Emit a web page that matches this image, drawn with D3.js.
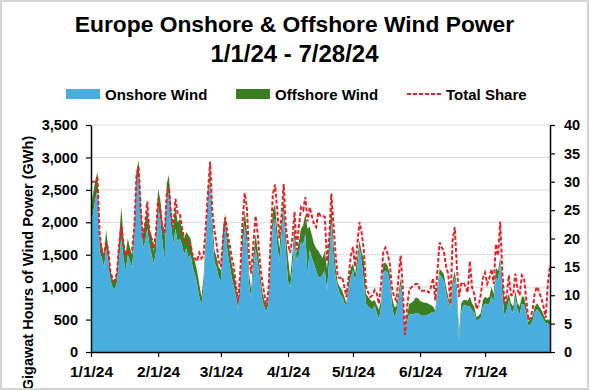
<!DOCTYPE html>
<html>
<head>
<meta charset="utf-8">
<script src="https://cdn.jsdelivr.net/npm/d3@7"></script>
<style>
body { margin: 0; background: #fff; }
svg { display: block; font-family: "Liberation Sans", Arial, sans-serif; }
</style>
</head>
<body>
<div id="chart"></div>
<script>
// daily values from 1/1/24, GWh
var onshore = [
    1950, 2150, 2350, 2500, 1550, 1450, 1300, 1600, 1400, 1100,
    1000, 960, 1080, 1450, 1750, 1450, 1250, 1500, 1400, 1300,
    1750, 2550, 2750, 2100, 1600, 1700, 1900, 1650, 1500, 1350,
    1550, 2250, 2050, 1700, 1400, 2400, 2450, 1950, 1650, 1900,
    1700, 1750, 1650, 1500, 1600, 1450, 1500, 1300, 1200, 1050,
    850, 720, 1000, 1650, 2200, 2700, 1850, 1400, 1300, 1150,
    1100, 1750, 1950, 1550, 1350, 1150, 1000, 850, 650, 1000,
    1600, 1950, 1650, 1050, 820, 1280, 1600, 1380, 1100, 820,
    700, 620, 750, 1400, 1950, 2050, 1650, 1400, 1800, 2180,
    1550, 1100, 1000, 1300, 1770, 1400, 1500, 1700, 1650, 1820,
    1200, 1570, 1450, 1360, 1250, 1160, 1150, 1200, 1260, 950,
    1400, 2000, 1450, 1150, 1000, 900, 850, 760, 700, 1000,
    1150, 1260, 1100, 1300, 1620, 1400, 1100, 750, 700, 680,
    650, 720, 600, 500, 700, 1230, 1255, 1220, 1080, 720,
    540, 600, 800, 1030, 750, 310, 480, 590, 580, 580,
    600, 600, 570, 560, 560, 570, 580, 600, 620, 590,
    900, 1200, 1150, 1100, 900, 780, 650, 1000, 1150, 900,
    180, 620, 720, 720, 700, 700, 640, 600, 490, 500,
    520, 700, 745, 730, 745, 860, 780, 1150, 1100, 1390,
    900, 540, 650, 800, 650, 600, 850, 650, 580, 740,
    730, 600, 410, 420, 480, 620, 660, 620, 560, 500,
    440, 440, 420
];
var offshore = [
    300, 300, 300, 280, 200, 200, 200, 280, 200, 150,
    120, 120, 170, 300, 490, 300, 250, 250, 200, 200,
    200, 250, 210, 200, 200, 300, 300, 250, 300, 200,
    250, 270, 300, 300, 400, 200, 280, 250, 250, 350,
    300, 300, 250, 250, 250, 350, 250, 200, 200, 200,
    200, 130, 150, 150, 200, 200, 200, 170, 160, 160,
    160, 170, 180, 220, 220, 210, 210, 150, 100, 160,
    220, 230, 220, 160, 130, 180, 220, 190, 160, 130,
    100, 80, 100, 170, 230, 230, 220, 200, 200, 160,
    250, 350, 150, 200, 160, 120, 200, 200, 300, 310,
    700, 360, 350, 310, 350, 400, 350, 250, 300, 330,
    300, 280, 220, 150, 60, 100, 100, 90, 50, 110,
    150, 100, 110, 150, 100, 150, 310, 150, 150, 120,
    130, 80, 120, 150, 100, 130, 125, 110, 120, 130,
    160, 100, 100, 100, 100, 30, 80, 155, 180, 210,
    240, 230, 220, 210, 200, 190, 160, 120, 80, 50,
    100, 80, 100, 100, 100, 70, 50, 100, 100, 100,
    120, 130, 80, 80, 90, 150, 110, 100, 50, 60,
    80, 100, 105, 100, 105, 140, 120, 150, 150, 70,
    200, 210, 150, 100, 100, 100, 100, 100, 120, 110,
    120, 100, 60, 80, 80, 80, 90, 80, 90, 80,
    50, 60, 60
];
// total share, %
var share = [
    30, 30, 30, 30.5, 21, 17.5, 17, 19.4, 18, 14,
    13, 12.5, 14, 19, 22.4, 19, 17, 18, 17.5, 18,
    22, 31, 32.6, 25, 20, 22.5, 26.5, 21, 20, 18.3,
    21, 27, 25, 22, 21, 28, 29, 24, 22, 27,
    24.5, 24.4, 22, 20, 19.5, 19, 19, 17, 16.5, 16,
    17.5, 16.5, 17, 22, 28, 33.5, 25, 21.4, 19, 16,
    15, 20, 23.7, 21, 19, 16.7, 15, 11.5, 8.9, 14.4,
    23, 28, 25.5, 16.7, 13.8, 19, 24, 20.8, 16, 12.6,
    10.3, 8, 11, 20, 27.8, 29.5, 25, 20, 24, 29.6,
    22, 19, 17.5, 20, 24.7, 18, 22, 25.5, 25, 27.3,
    23, 25.5, 24, 22.5, 22, 24.7, 24, 24, 23.8, 16,
    20, 27.9, 22.5, 17, 13.2, 13, 13.2, 11.5, 9.7, 13.2,
    17, 18.5, 15, 19, 22.9, 21, 18, 11.5, 10.5, 9.7,
    10, 10.9, 10.3, 8.5, 12, 17.8, 18.4, 17.3, 15.5, 11.4,
    9.7, 9.1, 13, 17, 11.4, 3, 7.9, 11, 11.4, 11.7,
    12, 12, 10.8, 10.8, 10.8, 10.8, 10.5, 11.4, 13, 9.1,
    14.3, 19.3, 18.4, 17.8, 15, 13.8, 8.5, 19.6, 22, 15,
    9.7, 12, 12.3, 11.5, 10.5, 16, 11.4, 10.3, 7.6, 8.2,
    10, 13, 14, 12, 13, 14.6, 12, 19, 17, 23,
    14, 8.5, 10, 13.5, 10, 10, 13.8, 11, 10, 13.5,
    13, 9.5, 5.6, 6, 7.5, 10.5, 11.5, 10.5, 9.5, 8,
    6, 12, 15.3
];
var monthTicks = ["2024-01-01", "2024-02-01", "2024-03-01", "2024-04-01", "2024-05-01", "2024-06-01", "2024-07-01"];
var gwhTicks = [0, 500, 1000, 1500, 2000, 2500, 3000, 3500];
var shareTicks = [0, 5, 10, 15, 20, 25, 30, 35, 40];
var seriesNames = ["Onshore Wind", "Offshore Wind", "Total Share"];
var titleLines = ["Europe Onshore & Offshore Wind Power", "1/1/24 - 7/28/24"];

var W = 589, H = 390;
var plotL = 91, plotR = 550, plotT = 125, plotB = 352;
var colOn = "#48aee0", colOff = "#3b7d23", colShare = "#e1232b";

var parseDay = d3.timeParse("%Y-%m-%d");
var start = parseDay("2024-01-01");

var data = onshore.map(function (v, i) {
    return { date: d3.timeDay.offset(start, i), on: v, off: offshore[i], share: share[i] };
});

var svg = d3.select("#chart").append("svg")
    .attr("width", W)
    .attr("height", H);

svg.append("rect")
    .attr("width", W).attr("height", H)
    .attr("fill", "#fff");

var x = d3.scaleTime()
    .domain([start, data[data.length - 1].date])
    .range([plotL, plotR]);
var y = d3.scaleLinear().domain([0, 3500]).range([plotB, plotT]);
var y2 = d3.scaleLinear().domain([0, 40]).range([plotB, plotT]);

// gridlines
svg.append("g").selectAll("line")
    .data(gwhTicks.slice(1))
    .join("line")
    .attr("x1", plotL).attr("x2", plotR)
    .attr("y1", function (d) { return y(d); })
    .attr("y2", function (d) { return y(d); })
    .attr("stroke", "#d9d9d9")
    .attr("stroke-width", 1);

var onArea = d3.area()
    .x(function (d) { return x(d.date); })
    .y0(y(0))
    .y1(function (d) { return y(d.on); });
var offArea = d3.area()
    .x(function (d) { return x(d.date); })
    .y0(function (d) { return y(d.on); })
    .y1(function (d) { return y(d.on + d.off); });
var shareLine = d3.line()
    .x(function (d) { return x(d.date); })
    .y(function (d) { return y2(d.share); });

svg.append("path").datum(data).attr("d", offArea).attr("fill", colOff);
svg.append("path").datum(data).attr("d", onArea).attr("fill", colOn);
svg.append("path").datum(data).attr("d", shareLine)
    .attr("fill", "none")
    .attr("stroke", colShare)
    .attr("stroke-width", 2)
    .attr("stroke-dasharray", "4,2");

function styleAxis(size) {
    return function (g) {
        g.select(".domain").attr("stroke", "#000").attr("stroke-width", 1.5);
        g.selectAll(".tick line").attr("stroke", "#000").attr("stroke-width", 1.2);
        g.selectAll("text")
            .attr("fill", "#000")
            .style("font-size", size)
            .style("font-weight", "bold");
    };
}

svg.append("g")
    .attr("transform", "translate(" + plotL + ",0)")
    .call(d3.axisLeft(y).tickValues(gwhTicks).tickFormat(d3.format(",")).tickSize(5).tickSizeOuter(0).tickPadding(8))
    .call(styleAxis("14.5px"));

svg.append("g")
    .attr("transform", "translate(" + plotR + ",0)")
    .call(d3.axisRight(y2).tickValues(shareTicks).tickSize(5).tickSizeOuter(0).tickPadding(9))
    .call(styleAxis("14.5px"));

svg.append("g")
    .attr("transform", "translate(0," + plotB + ")")
    .call(d3.axisBottom(x).tickValues(monthTicks.map(parseDay)).tickFormat(d3.timeFormat("%-m/%-d/%y")).tickSize(5).tickSizeOuter(0).tickPadding(9))
    .call(styleAxis("15.5px"));

// y axis title
svg.append("text")
    .attr("transform", "translate(33,263) rotate(-90)")
    .attr("text-anchor", "middle")
    .style("font-size", "14.5px")
    .style("font-weight", "bold")
    .text("Gigawat Hours of Wind Power (GWh)");

// title
svg.selectAll(".title")
    .data(titleLines)
    .join("text")
    .attr("class", "title")
    .attr("x", W / 2)
    .attr("y", function (d, i) { return i == 0 ? 32 : 62; })
    .attr("text-anchor", "middle")
    .style("font-size", function (d, i) { return i == 0 ? "22.8px" : "24px"; })
    .style("font-weight", "bold")
    .text(function (d) { return d; });

// legend
var legX = [66, 236, 407];
var legY = 94;
var leg = svg.selectAll(".leg")
    .data(seriesNames)
    .join("g")
    .attr("class", "leg")
    .attr("transform", function (d, i) { return "translate(" + legX[i] + "," + legY + ")"; });
leg.filter(function (d, i) { return i < 2; })
    .append("rect")
    .attr("x", 0).attr("y", -5).attr("width", 34).attr("height", 10)
    .attr("fill", function (d, i) { return i == 0 ? colOn : colOff; });
leg.filter(function (d, i) { return i == 2; })
    .append("line")
    .attr("x1", 0).attr("x2", 34).attr("y1", 0).attr("y2", 0)
    .attr("stroke", colShare).attr("stroke-width", 2)
    .attr("stroke-dasharray", "4,2");
leg.append("text")
    .attr("x", 39).attr("y", 5.5)
    .style("font-size", "15px")
    .style("font-weight", "bold")
    .text(function (d) { return d; });

// outer frame
svg.append("rect")
    .attr("x", 1).attr("y", 1).attr("width", W - 2).attr("height", H - 2)
    .attr("fill", "none")
    .attr("stroke", "#d4d4d4")
    .attr("stroke-width", 2);
</script>
</body>
</html>
